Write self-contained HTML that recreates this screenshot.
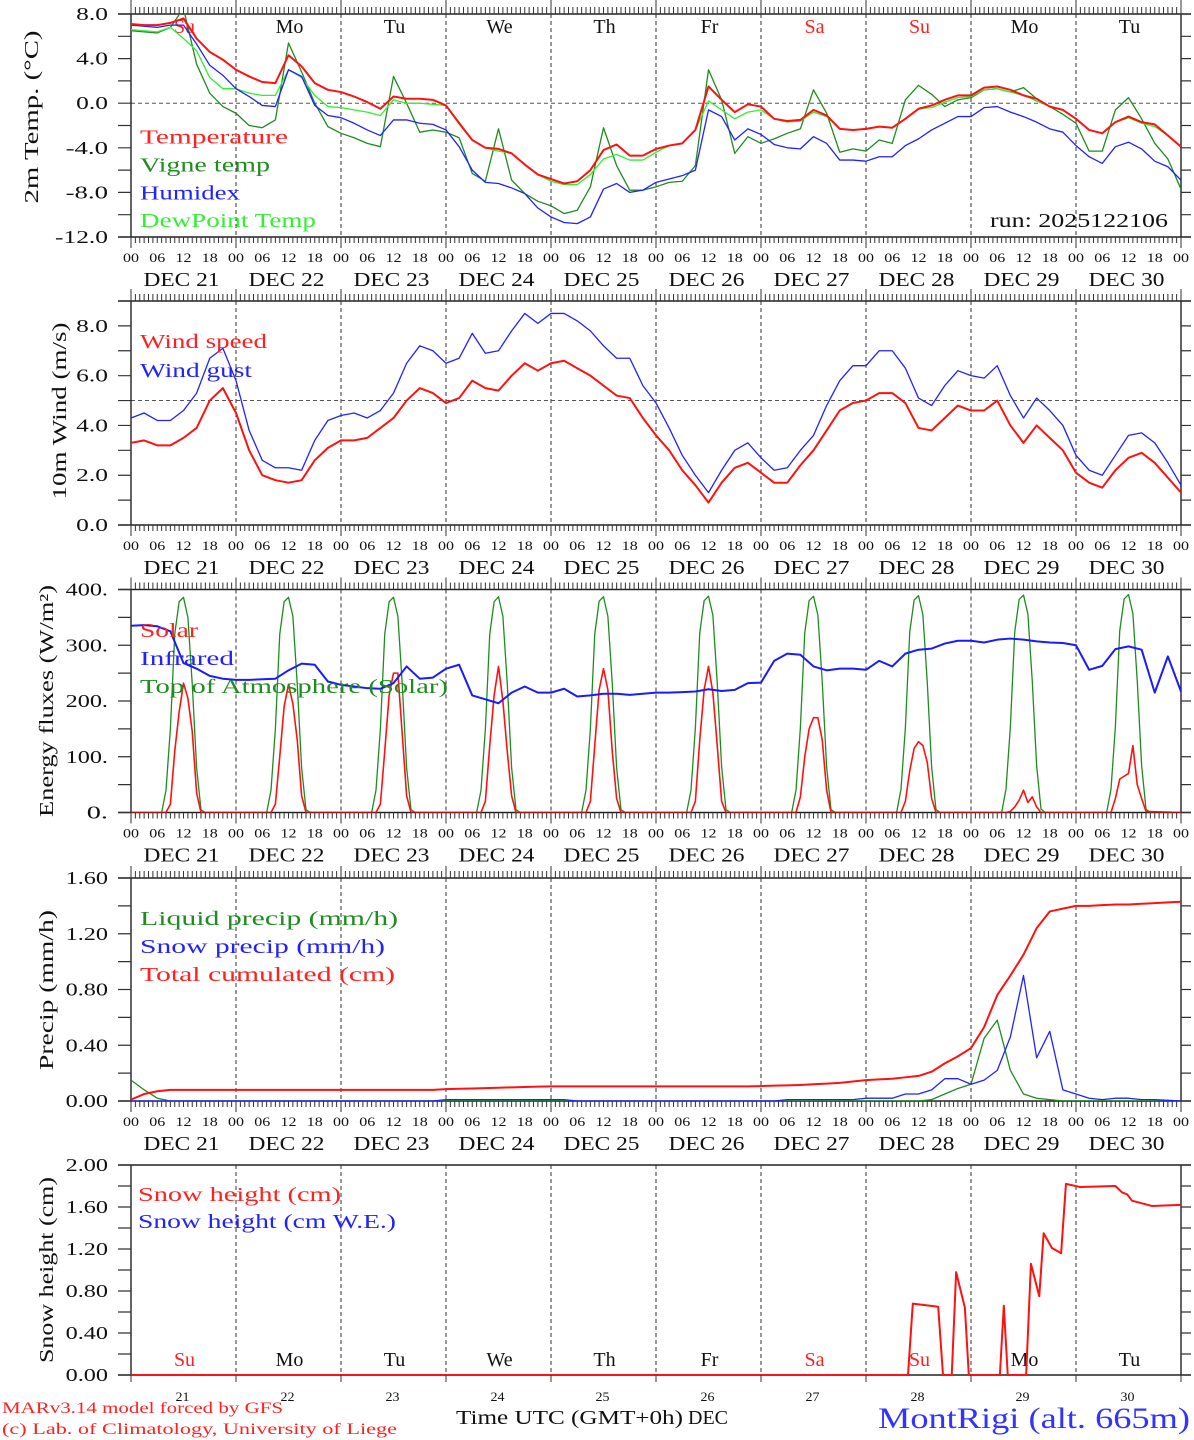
<!DOCTYPE html>
<html>
<head>
<meta charset="utf-8">
<style>
html,body{margin:0;padding:0;background:#fff;width:1194px;height:1440px;overflow:hidden}
svg{display:block}
text{font-family:"Liberation Serif",serif}
</style>
</head>
<body>
<svg id="chart" xmlns="http://www.w3.org/2000/svg" width="1194" height="1440" viewBox="0 0 1194 1440"></svg>
<script>
// ---------- categories ----------
const hours3 = [0,3,6,9,12,15,18,21,24,27,30,33,36,39,42,45,48,51,54,57,60,63,66,69,72,75,78,81,84,87,90,93,96,99,102,105,108,111,114,117,120,123,126,129,132,135,138,141,144,147,150,153,156,159,162,165,168,171,174,177,180,183,186,189,192,195,198,201,204,207,210,213,216,219,222,225,228,231,234,237,240];
const dayNames = ['Su','Mo','Tu','We','Th','Fr','Sa','Su','Mo','Tu'];
const dayNumbers = ['21','22','23','24','25','26','27','28','29','30'];
const hourTickLabels = ['00','06','12','18'];

// ---------- panel 1: 2m temperature ----------
const temperature = [7.1,7.0,7.0,7.2,7.6,5.8,4.6,3.9, 3.0,2.4,1.9,1.8,4.3,3.3,1.8,1.2, 1.0,0.6,0.1,-0.5,0.6,0.4,0.4,0.3, -0.2,-1.8,-3.3,-4.0,-4.1,-4.5,-5.5,-6.4, -6.8,-7.2,-7.0,-6.0,-4.2,-3.7,-4.7,-4.7, -4.1,-3.8,-3.6,-2.4,1.5,0.3,-0.8,-0.1, -0.3,-1.4,-1.6,-1.5,-0.6,-1.1,-2.3,-2.4, -2.3,-2.1,-2.2,-1.4,-0.5,-0.2,0.3,0.7, 0.7,1.4,1.5,1.2,0.7,0.4,-0.3,-0.6, -1.4,-2.4,-2.7,-1.7,-1.2,-1.7,-1.9,-2.9,-3.9];
const vigneTemp = [6.5,6.4,6.3,6.8,8.5,3.5,0.9,-0.3, -0.9,-2.0,-2.2,-1.5,5.4,2.8,0.0,-2.1, -2.7,-3.1,-3.6,-3.9,2.4,0.0,-2.6,-2.4, -2.6,-3.1,-6.3,-7.0,-2.3,-6.9,-8.1,-8.8, -9.2,-9.9,-9.6,-7.5,-2.2,-5.6,-7.8,-7.8, -7.5,-7.1,-7.0,-5.6,3.0,0.3,-4.5,-3.0, -3.6,-3.2,-2.7,-2.3,1.2,-0.9,-4.4,-4.1, -4.3,-3.3,-3.6,0.3,1.6,0.8,-0.3,0.3, 0.5,1.2,1.3,1.0,1.4,0.4,-0.3,-1.0, -1.8,-4.3,-4.3,-0.6,0.5,-1.4,-3.6,-5.0,-7.7];
const humidex = [7.0,6.9,6.8,7.0,7.0,5.3,3.4,2.5, 1.3,0.6,-0.2,-0.3,3.0,2.4,-0.2,-1.1, -1.3,-1.8,-2.4,-2.9,-1.5,-1.5,-1.8,-1.9, -2.4,-3.9,-6.0,-7.1,-7.2,-7.6,-8.1,-9.4, -10.2,-10.7,-10.8,-10.2,-7.7,-7.2,-8.0,-7.8, -7.1,-6.8,-6.5,-6.0,-0.6,-1.2,-3.3,-2.3, -2.8,-3.7,-4.0,-4.1,-3.0,-3.6,-5.1,-5.1, -5.2,-4.8,-4.8,-3.8,-3.2,-2.4,-1.8,-1.2, -1.2,-0.4,-0.3,-0.8,-1.2,-1.7,-2.3,-2.6, -3.8,-4.8,-5.4,-3.9,-3.5,-4.1,-5.2,-5.7,-6.9];
const dewPoint = [6.6,6.5,6.4,6.8,5.8,4.7,2.3,1.3, 1.3,0.9,0.7,0.7,3.0,2.3,0.7,-0.3, -0.4,-0.6,-0.8,-1.1,0.3,0.0,0.0,-0.1, -0.2,-1.7,-3.3,-4.0,-4.3,-4.5,-5.5,-6.4, -7.0,-7.3,-7.3,-6.4,-5.0,-4.6,-5.1,-5.1, -4.4,-3.8,-3.6,-2.4,0.2,-0.6,-1.4,-0.8, -0.6,-1.4,-1.7,-1.6,-0.8,-1.2,-2.3,-2.4, -2.3,-2.1,-2.2,-1.4,-0.5,-0.4,0.1,0.5, 0.6,1.2,1.3,1.0,0.7,0.2,-0.3,-0.6, -1.4,-2.4,-2.7,-1.7,-1.3,-1.8,-2.1,-2.9,-3.9];
const tempTicks = [-12,-8,-4,0,4,8];
const tempTickLabels = ['-12.0','-8.0','-4.0','0.0','4.0','8.0'];

// ---------- panel 2: wind ----------
const windSpeed = [3.3,3.4,3.2,3.2,3.5,3.9,5.0,5.5, 4.5,3.0,2.0,1.8,1.7,1.8,2.6,3.1, 3.4,3.4,3.5,3.9,4.3,5.0,5.5,5.3, 4.9,5.1,5.8,5.5,5.4,6.0,6.5,6.2, 6.5,6.6,6.3,6.0,5.6,5.2,5.1,4.3, 3.6,3.0,2.2,1.6,0.9,1.7,2.3,2.5, 2.1,1.7,1.7,2.4,3.0,3.8,4.6,4.9, 5.0,5.3,5.3,4.9,3.9,3.8,4.3,4.8, 4.6,4.6,5.0,4.0,3.3,4.0,3.5,3.0, 2.1,1.7,1.5,2.2,2.7,2.9,2.5,1.9,1.3];
const windGust = [4.3,4.5,4.2,4.2,4.6,5.3,6.7,7.1, 5.8,3.8,2.6,2.3,2.3,2.2,3.4,4.2, 4.4,4.5,4.3,4.6,5.3,6.5,7.2,7.0, 6.5,6.7,7.7,6.9,7.0,7.8,8.5,8.1, 8.5,8.5,8.2,7.8,7.2,6.7,6.7,5.6, 4.9,3.9,2.8,2.0,1.3,2.2,3.0,3.3, 2.7,2.2,2.3,3.0,3.6,4.8,5.8,6.4, 6.4,7.0,7.0,6.3,5.1,4.8,5.6,6.2, 6.0,5.9,6.4,5.2,4.3,5.1,4.6,4.0, 2.8,2.2,2.0,2.8,3.6,3.7,3.3,2.5,1.6];
const windTicks = [0,2,4,6,8];
const windTickLabels = ['0.0','2.0','4.0','6.0','8.0'];

// ---------- panel 3: energy fluxes ----------
const infrared = [335,336,334,325,268,258,245,240, 238,238,239,240,255,267,265,235, 229,226,223,222,232,262,240,242, 258,265,210,203,196,215,226,215, 215,222,208,210,213,213,211,213, 215,215,216,217,221,218,220,232, 233,272,285,283,262,255,258,258, 256,272,262,285,292,294,303,308, 308,305,310,312,310,307,305,304, 300,256,263,293,298,292,215,280,217];
const solarStartHour = 8; // local hours 8..16 each day
const solarDay21 = [0,15,110,180,232,205,145,35,0];
const solarDay22 = [0,15,100,190,230,195,130,30,0];
const solarDay23 = [0,15,110,210,250,250,140,30,0];
const solarDay24 = [0,20,120,210,262,200,110,30,0];
const solarDay25 = [0,20,120,220,258,220,110,25,0];
const solarDay26 = [0,20,130,220,262,215,120,20,0];
const solarDay27 = [0,28,100,150,170,170,130,40,0];
const solarDay28 = [0,20,75,115,127,120,90,25,0];
const solarDay29 = [0,2,10,22,40,18,28,10,0];
const solarDay30 = [0,25,60,65,70,120,50,25,2];
const toaStartHour = 7; // local hours 7..17 each day
const toaDay21 = [0,40,150,320,378,386,350,230,80,5,0];
const toaDay22 = [0,40,150,320,378,386,352,230,80,5,0];
const toaDay23 = [0,40,150,320,378,386,352,230,80,5,0];
const toaDay24 = [0,40,150,320,378,387,352,232,80,5,0];
const toaDay25 = [0,40,150,320,379,387,352,232,80,5,0];
const toaDay26 = [0,40,152,322,380,388,354,232,82,5,0];
const toaDay27 = [0,40,152,322,380,388,354,234,82,5,0];
const toaDay28 = [0,42,152,324,381,389,355,234,82,5,0];
const toaDay29 = [0,42,154,324,382,390,356,236,84,6,0];
const toaDay30 = [0,42,154,326,383,391,357,236,84,6,0];
const energyTicks = [0,100,200,300,400];
const energyTickLabels = ['0.','100.','200.','300.','400.'];

// ---------- panel 4: precipitation ----------
const liquidPrecip = [0.15,0.08,0.02,0,0,0,0,0, 0,0,0,0,0,0,0,0, 0,0,0,0,0,0,0,0, 0.005,0.005,0.005,0.005,0.005,0.005,0.005,0.005, 0.005,0.005,0,0,0,0,0,0, 0,0,0,0,0,0,0,0, 0,0,0,0,0,0,0,0, 0,0,0,0,0,0.01,0.05,0.09, 0.12,0.45,0.58,0.22,0.05,0.02,0.01,0, 0,0,0,0,0,0,0,0,0];
const snowPrecip = [0,0,0,0,0,0,0,0, 0,0,0,0,0,0,0,0, 0,0,0,0,0,0,0,0, 0.01,0.01,0.01,0.01,0.01,0.01,0.01,0.01, 0.01,0.01,0,0,0,0,0,0, 0,0,0,0,0,0,0,0, 0,0,0.01,0.01,0.01,0.01,0.01,0.01, 0.02,0.02,0.02,0.05,0.05,0.08,0.16,0.16, 0.12,0.15,0.22,0.46,0.9,0.31,0.5,0.08, 0.05,0.02,0.01,0.02,0.02,0.01,0.01,0.005,0];
const totalCumulated = [0.01,0.05,0.07,0.08,0.08,0.08,0.08,0.08, 0.08,0.08,0.08,0.08,0.08,0.08,0.08,0.08, 0.08,0.08,0.08,0.08,0.08,0.08,0.08,0.08, 0.085,0.088,0.09,0.092,0.095,0.098,0.10,0.103, 0.105,0.105,0.105,0.105,0.105,0.105,0.105,0.105, 0.105,0.105,0.105,0.105,0.105,0.105,0.105,0.105, 0.107,0.11,0.112,0.115,0.12,0.125,0.13,0.14, 0.15,0.155,0.16,0.17,0.18,0.21,0.27,0.32, 0.38,0.53,0.76,0.90,1.05,1.24,1.36,1.38, 1.40,1.40,1.405,1.41,1.41,1.415,1.42,1.425,1.43];
const precipTicks = [0,0.4,0.8,1.2,1.6];
const precipTickLabels = ['0.00','0.40','0.80','1.20','1.60'];

// ---------- panel 5: snow height ----------
const snowHeightHours = [0,177.6,178.7,184.5,185.6,187.6,188.6,190.6,191.5,198.6,199.5,200.4,204.6,205.7,207.6,208.6,210.5,212.6,213.7,217,225,226.5,227.7,228.8,233.3,240];
const snowHeight = [0,0,0.68,0.65,0,0,0.98,0.64,0,0,0.66,0,0,1.06,0.75,1.35,1.21,1.16,1.82,1.79,1.80,1.74,1.72,1.66,1.61,1.62];
const snowTicks = [0,0.4,0.8,1.2,1.6,2.0];
const snowTickLabels = ['0.00','0.40','0.80','1.20','1.60','2.00'];

// ---------- rendering ----------
const NS = 'http://www.w3.org/2000/svg';
const svg = document.getElementById('chart');
function mk(tag, attrs, parent){
  const e = document.createElementNS(NS, tag);
  for (const k in attrs) e.setAttribute(k, attrs[k]);
  (parent || svg).appendChild(e);
  return e;
}
function txt(str, x, y, size, fill, anchor, len, parent){
  const t = mk('text', {x:x, y:y, 'font-size':size, fill:fill, 'text-anchor':anchor||'start'}, parent);
  if (len) { t.setAttribute('textLength', len); t.setAttribute('lengthAdjust', 'spacingAndGlyphs'); }
  t.textContent = str;
  return t;
}
const X0 = 131, X1 = 1181;
const X = h => X0 + h * (X1 - X0) / 240;

const panels = [
  {key:'temp', top:14, bot:237, min:-12, max:8, minor:2, ticks:tempTicks, labels:tempTickLabels, hline:0, dayNames:true},
  {key:'wind', top:301, bot:525, min:0, max:9, minor:1, ticks:windTicks, labels:windTickLabels, hline:5},
  {key:'energy', top:589.5, bot:812.5, min:0, max:400, minor:50, ticks:energyTicks, labels:energyTickLabels},
  {key:'precip', top:878, bot:1101, min:0, max:1.6, minor:0.2, ticks:precipTicks, labels:precipTickLabels},
  {key:'snow', top:1165, bot:1375, min:0, max:2, minor:0.2, ticks:snowTicks, labels:snowTickLabels, last:true}
];
function yScale(p){ return v => p.bot - (v - p.min) / (p.max - p.min) * (p.bot - p.top); }

const defs = mk('defs', {});
panels.forEach((p, i) => {
  const cp = mk('clipPath', {id:'clip' + i}, defs);
  mk('rect', {x:X0, y:p.top, width:X1 - X0, height:p.bot - p.top}, cp);
});

function seriesPath(g, hrs, vals, p, color, width, name){
  const Y = yScale(p);
  let d = '';
  for (let i = 0; i < vals.length; i++) d += (i ? 'L' : 'M') + X(hrs[i]).toFixed(2) + ',' + Y(vals[i]).toFixed(2);
  const path = mk('path', {d:d, fill:'none', stroke:color, 'stroke-width':width, 'stroke-linejoin':'round'}, g);
  
  
  return path;
}
function dailyProfile(days, startHour){
  const hrs = [0], vals = [0];
  days.forEach((arr, d) => {
    arr.forEach((v, i) => { hrs.push(d * 24 + startHour + i); vals.push(v); });
  });
  hrs.push(240); vals.push(0);
  return {hrs:hrs, vals:vals};
}

panels.forEach((p, pi) => {
  const Y = yScale(p);
  const g = mk('g', {});
  
  

  // day dashed lines
  let dd = '';
  for (let d = 1; d < 10; d++) dd += 'M' + X(d * 24) + ',' + p.top + 'V' + p.bot;
  const dl = mk('path', {d:dd, stroke:'#333', 'stroke-width':1, 'stroke-dasharray':'4,3', fill:'none'}, g);
  
  

  if (p.hline !== undefined) {
    const hl = mk('line', {x1:X0, x2:X1, y1:Y(p.hline), y2:Y(p.hline), stroke:'#555', 'stroke-width':1, 'stroke-dasharray':'4,3'}, g);
    
    
  }

  // axes box
  let ax = 'M' + X0 + ',' + p.top + 'V' + p.bot + 'M' + X1 + ',' + p.top + 'V' + p.bot +
           'M' + (X0 - 13) + ',' + p.top + 'H' + (X1 + 10) + 'M' + (X0 - 13) + ',' + p.bot + 'H' + (X1 + 10);
  const axis = mk('path', {d:ax, stroke:'#222', 'stroke-width':1.4, fill:'none'}, g);
  
  

  // y ticks
  let yt = '';
  for (let v = p.min; v <= p.max + 1e-9; v += p.minor) {
    const y = Y(v).toFixed(2);
    yt += 'M' + (X0 - 13) + ',' + y + 'H' + X0 + 'M' + X1 + ',' + y + 'H' + (X1 + 10);
  }
  const ytk = mk('path', {d:yt, stroke:'#333', 'stroke-width':1.2, fill:'none'}, g);
  
  

  p.ticks.forEach((v, k) => {
    const lab = p.labels[k];
    const t = txt(lab, 108, Y(v) + 6, 18, '#111', 'end', lab.length * 10.6, g);
    
    
  });

  // x ticks
  let xt = '';
  if (!p.last) {
    for (let h = 0; h <= 240; h++) {
      const x = X(h).toFixed(2);
      const day = h % 24 === 0;
      xt += 'M' + x + ',' + (p.top - (day ? (pi === 0 ? 14 : 12) : 7)) + 'V' + p.top;
      xt += 'M' + x + ',' + p.bot + 'V' + (p.bot + (day ? 11 : 6));
    }
  } else {
    for (let d = 0; d <= 10; d++) xt += 'M' + X(d * 24) + ',' + p.bot + 'V' + (p.bot + 7);
  }
  const xtk = mk('path', {d:xt, stroke:'#333', 'stroke-width':1, fill:'none'}, g);
  
  

  if (!p.last) {
    for (let h = 0; h <= 240; h += 6) {
      const lab = hourTickLabels[(h / 6) % 4];
      const t = txt(lab, X(h), p.bot + 25, 13, '#111', 'middle', 16, g);
      
      
    }
    for (let d = 0; d < 10; d++) {
      const t = txt('DEC ' + dayNumbers[d], X(d * 24 + 12) - 2, p.bot + 49, 20, '#111', 'middle', 76, g);
      
      
    }
  } else {
    for (let d = 0; d < 10; d++) {
      const t = txt(dayNumbers[d], X(d * 24 + 12) - 1, 1401, 13, '#111', 'middle', 14, g);
      
      
    }
  }

  if (p.dayNames || p.last) {
    for (let d = 0; d < 10; d++) {
      const nm = dayNames[d];
      const col = (nm === 'Su' || nm === 'Sa') ? '#ff2020' : '#111';
      const t = txt(nm, X(d * 24 + 12) + 1, p.last ? 1366 : 33, 20, col, 'middle', null, g);
      
      
    }
  }
  p.g = mk('g', {'clip-path':'url(#clip' + pi + ')'}, g);
});

// series
const P = panels;
seriesPath(P[0].g, hours3, vigneTemp, P[0], '#1e8c1e', 1.3, 'vigne-temp-line');
seriesPath(P[0].g, hours3, dewPoint, P[0], '#33ee33', 1.3, 'dewpoint-line');
seriesPath(P[0].g, hours3, humidex, P[0], '#2222ff', 1.3, 'humidex-line');
seriesPath(P[0].g, hours3, temperature, P[0], '#ff1111', 2, 'temperature-line');

seriesPath(P[1].g, hours3, windGust, P[1], '#2222ff', 1.3, 'wind-gust-line');
seriesPath(P[1].g, hours3, windSpeed, P[1], '#ff1111', 2, 'wind-speed-line');

const toa = dailyProfile([toaDay21,toaDay22,toaDay23,toaDay24,toaDay25,toaDay26,toaDay27,toaDay28,toaDay29,toaDay30], toaStartHour);
const sol = dailyProfile([solarDay21,solarDay22,solarDay23,solarDay24,solarDay25,solarDay26,solarDay27,solarDay28,solarDay29,solarDay30], solarStartHour);
seriesPath(P[2].g, toa.hrs, toa.vals, P[2], '#1e8c1e', 1.3, 'toa-solar-line');
seriesPath(P[2].g, sol.hrs, sol.vals, P[2], '#ff1111', 1.6, 'solar-line');
seriesPath(P[2].g, hours3, infrared, P[2], '#1a1aff', 2, 'infrared-line');

seriesPath(P[3].g, hours3, liquidPrecip, P[3], '#1e8c1e', 1.3, 'liquid-precip-line');
seriesPath(P[3].g, hours3, snowPrecip, P[3], '#2222ff', 1.3, 'snow-precip-line');
seriesPath(P[3].g, hours3, totalCumulated, P[3], '#ff1111', 2, 'total-cumulated-line');

seriesPath(P[4].g, snowHeightHours, snowHeight, P[4], '#ff1111', 2, 'snow-height-line');

// legends
let t;
t = txt('Temperature', 140, 143.5, 20, '#ff2020', 'start', 148);


t = txt('Vigne temp', 140, 171.5, 20, '#1e8c1e', 'start', 130);


t = txt('Humidex', 140, 199.5, 20, '#2222ff', 'start', 100);


t = txt('DewPoint Temp', 140, 227, 20, '#33ee33', 'start', 176);


t = txt('run: 2025122106', 990, 227, 20, '#111', 'start', 178);



t = txt('Wind speed', 140, 348, 20, '#ff2020', 'start', 127);


t = txt('Wind gust', 140, 377, 20, '#2222ff', 'start', 112);



t = txt('Solar', 140, 637, 20, '#ff2020', 'start', 58);


t = txt('Infrared', 140, 665, 20, '#2222ff', 'start', 94);


t = txt('Top of Atmosphere (Solar)', 140, 693, 20, '#1e8c1e', 'start', 308);



t = txt('Liquid precip (mm/h)', 140, 925, 20, '#1e8c1e', 'start', 258);


t = txt('Snow precip (mm/h)', 140, 953, 20, '#2222ff', 'start', 245);


t = txt('Total cumulated (cm)', 140, 981, 20, '#ff2020', 'start', 255);



t = txt('Snow height (cm)', 138, 1201, 20, '#ff2020', 'start', 203);


t = txt('Snow height (cm W.E.)', 138, 1228, 20, '#2222ff', 'start', 258);



// y-axis titles
function ytitle(str, x, cy, len, name){
  const tt = txt(str, x, cy, 20, '#111', 'middle', len);
  tt.setAttribute('transform', 'rotate(-90 ' + x + ' ' + cy + ')');
  
  
}
ytitle('2m Temp. (°C)', 38, 117, 173, 'y-axis-title-temp');
ytitle('10m Wind (m/s)', 66, 411, 177, 'y-axis-title-wind');
ytitle('Energy fluxes (W/m²)', 53, 701, 232, 'y-axis-title-energy');
ytitle('Precip (mm/h)', 53, 990, 160, 'y-axis-title-precip');
ytitle('Snow height (cm)', 53, 1270, 186, 'y-axis-title-snow');

// footer
t = txt('Time UTC (GMT+0h)', 456, 1424, 20, '#111', 'start', 227);


t = txt('DEC', 688, 1424, 20, '#111', 'start', 40);


t = txt('MARv3.14 model forced by GFS', 2, 1413, 16, '#ff2020', 'start', 281);


t = txt('(c) Lab. of Climatology, University of Liege', 2, 1434, 16, '#ff2020', 'start', 395);


t = txt('MontRigi (alt. 665m)', 878, 1428, 30, '#3333ff', 'start', 312);


</script>
</body>
</html>
